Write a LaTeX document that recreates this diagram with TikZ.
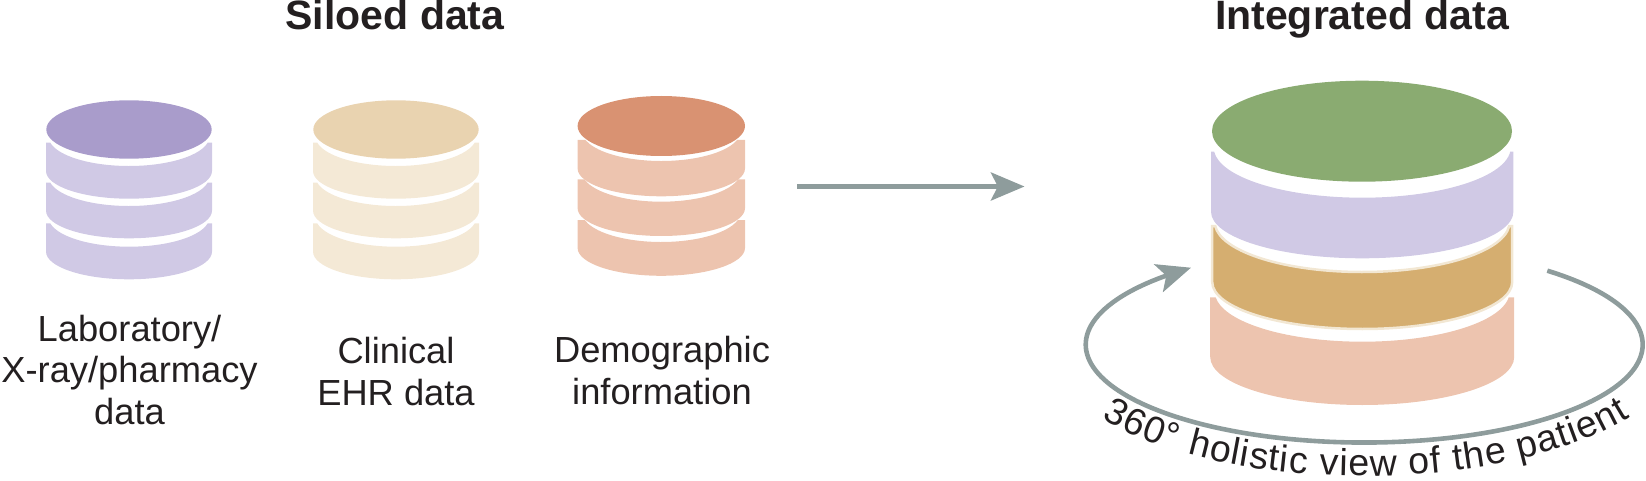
\documentclass[tikz,border=0pt]{standalone}
\usepackage{fontspec}
\setmainfont{Liberation Sans}
\usetikzlibrary{arrows.meta,decorations.text}
\definecolor{purpleTop}{HTML}{A99CCB}
\definecolor{purpleBand}{HTML}{D0C9E5}
\definecolor{creamTop}{HTML}{E9D3B0}
\definecolor{creamBand}{HTML}{F4E9D6}
\definecolor{peachTop}{HTML}{D99272}
\definecolor{peachBand}{HTML}{EDC4AF}
\definecolor{greenTop}{HTML}{8AAB71}
\definecolor{tanBand}{HTML}{D5AE70}
\definecolor{tanEdge}{HTML}{F2E7D3}
\definecolor{arrowGrey}{HTML}{8E9C9C}
\definecolor{ink}{HTML}{231F20}
\tikzset{
  caption/.style={align=center,inner sep=0pt,anchor=base,text=ink,font=\fontsize{36.3}{41.2}\selectfont},
  heading/.style={inner sep=0pt,anchor=base,text=ink,font=\fontsize{41}{41}\selectfont\bfseries},
  flow/.style={draw=arrowGrey,line width=5pt,-{Stealth[length=33.6pt,width=28pt,inset=7pt]}},
  ring/.style={draw=arrowGrey,line width=4.6pt,-{Stealth[length=34pt,width=29pt,inset=8pt]}},
}
% cx rx ytop ysidebottom rybottom innerrx innercentre innerry style
\newcommand{\dbband}[9]{%
  \pgfmathsetmacro{\bA}{asin((#3-#7)/#8)}%
  \pgfmathsetmacro{\bIx}{#6*cos(\bA)}%
  \pgfmathsetmacro{\bL}{#1-#2}%
  \pgfmathsetmacro{\bR}{#1+#2}%
  \pgfmathsetmacro{\bT}{480-#3}%
  \pgfmathsetmacro{\bB}{480-#4}%
  \pgfmathsetmacro{\bXi}{#1+\bIx}%
  \pgfmathsetmacro{\bS}{360-\bA}%
  \pgfmathsetmacro{\bE}{180+\bA}%
  \path[#9] (\bL,\bT) -- (\bL,\bB)
    arc[start angle=180,end angle=360,x radius=#2pt,y radius=#5pt]
    -- (\bR,\bT) -- (\bXi,\bT)
    arc[start angle=\bS,end angle=\bE,x radius=#6pt,y radius=#8pt] -- cycle;
}
\newcommand{\dbtop}[5]{%
  \pgfmathsetmacro{\bC}{480-#2}%
  \fill[#5] (#1,\bC) ellipse[x radius=#3pt,y radius=#4pt];
}
\begin{document}
\begin{tikzpicture}[x=1pt,y=1pt]
\useasboundingbox (0,0) rectangle (1646,480);
% silo 1
\dbband{129}{83}{142.7}{171}{27.7}{80.5}{136.5}{29.5}{fill=purpleBand}
\dbband{129}{83}{182.7}{210.6}{27.7}{80.5}{176.5}{29.5}{fill=purpleBand}
\dbband{129}{83}{223.3}{251.6}{27.7}{80.5}{217.2}{29.5}{fill=purpleBand}
\dbtop{129}{129.5}{82.7}{29.2}{purpleTop}
% silo 2
\dbband{396}{83}{142.7}{171}{27.7}{80.5}{136.5}{29.5}{fill=creamBand}
\dbband{396}{83}{182.7}{210.6}{27.7}{80.5}{176.5}{29.5}{fill=creamBand}
\dbband{396}{83}{223.3}{251.6}{27.7}{80.5}{217.2}{29.5}{fill=creamBand}
\dbtop{396}{129.5}{82.7}{29.2}{creamTop}
% silo 3
\dbband{661.3}{83.7}{140}{168.5}{27.8}{79.5}{131}{30}{fill=peachBand}
\dbband{661.3}{83.7}{179.3}{208.2}{27.8}{79.5}{171.7}{30}{fill=peachBand}
\dbband{661.3}{83.7}{220}{248}{27.8}{79.5}{212}{30}{fill=peachBand}
\dbtop{661.3}{126}{83.7}{30}{peachTop}
% integrated
\dbband{1362.2}{151.2}{151.7}{211.7}{46.6}{148.5}{147.7}{50}{fill=purpleBand}
\dbband{1362.2}{150}{226}{282}{47}{147.5}{222}{50}{fill=tanBand,draw=tanEdge,line width=2.5pt}
\dbband{1362.2}{152}{297.3}{357}{48}{147.5}{291.7}{50}{fill=peachBand}
\dbtop{1362}{131.2}{150}{50.5}{greenTop}
% headings and captions
\node[heading] (siloed) at (395,450.5) {Siloed data};
\node[heading] (integrated) at (1362,450.5) {Integrated data};
\node[caption] (lab) at (129.5,56) {Laboratory/\\X-ray/pharmacy\\data};
\node[caption] (clin) at (396,75) {Clinical\\EHR data};
\node[caption] (demo) at (662,76) {Demographic\\information};
% arrow between the groups
\coordinate (flowA) at (797,293.5);
\coordinate (flowB) at (1024.5,293.5);
\draw[flow] (flowA) -- (flowB);
% ring
\coordinate (ringA) at (1547.3,209.3);
\coordinate (ringTip) at (1191,212.3);
\draw[ring] (ringA) arc[start angle=48.9,end angle=-224.4,x radius=278.5pt,y radius=98pt] -- (ringTip);
% ring text
\path[decorate,decoration={text along path,text align=fit to path,
  text={|\fontsize{37.5}{37.5}\selectfont\color{ink}|360° holistic view of the patient}}]
  (1364,134) ++(214:317pt and 130pt) arc[start angle=214,end angle=327,x radius=317pt,y radius=130pt];
\end{tikzpicture}
\end{document}
